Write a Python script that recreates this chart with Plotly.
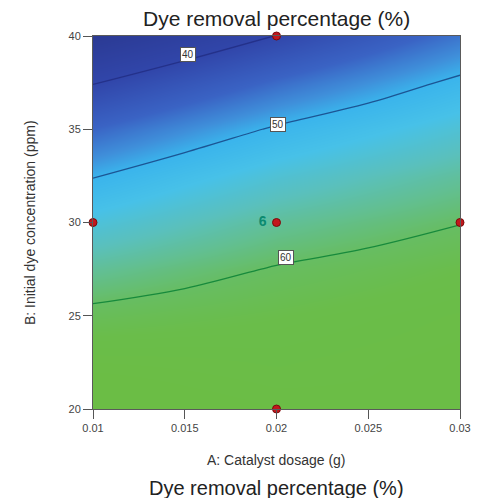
import plotly.graph_objects as go

# Factor levels (A: catalyst dosage, B: initial dye concentration)
dosage = [0.01, 0.015, 0.02, 0.025, 0.03]
conc = [20, 22.5, 25, 27.5, 30, 32.5, 35, 37.5, 40]

# Predicted dye removal (%) on the grid, one row per concentration level
removal = [
    [65.4, 64.4, 63.8, 63.6, 63.7],
    [63.4, 63.2, 62.9, 63.3, 63.7],
    [60.8, 61.4, 61.9, 62.5, 63.1],
    [57.7, 59.0, 60.2, 61.0, 61.9],
    [54.0, 55.9, 57.7, 58.8, 59.9],
    [49.8, 52.2, 54.4, 56.0, 57.5],
    [45.1, 47.8, 50.4, 52.4, 54.4],
    [39.8, 42.7, 45.6, 48.1, 50.7],
    [33.9, 37.0, 40.1, 43.1, 46.3],
]

# Contour levels drawn and their label anchor points
levels = [40, 50, 60]
level_colors = ["#24318a", "#1c5594", "#178a3c"]
label_x = [0.0152, 0.0201, 0.0205]
label_y = [39.03, 35.28, 28.1]

# Design points and replicate count at the centre point
design_a = [0.01, 0.02, 0.02, 0.03, 0.02]
design_b = [30, 40, 20, 30, 30]
design_text = ["", "", "", "", "6 "]

x_ticks = [0.01, 0.015, 0.02, 0.025, 0.03]
x_ticklabels = ["0.01", "0.015", "0.02", "0.025", "0.03"]
y_ticks = [20, 25, 30, 35, 40]

zmin, zmax = 34, 64
colorscale = [
    [0.0, "#2b3a94"],
    [0.2, "#3146aa"],
    [0.367, "#3a63c4"],
    [0.467, "#3f8fda"],
    [0.533, "#3ab4ec"],
    [0.633, "#47c1e8"],
    [0.733, "#5ac0bc"],
    [0.8, "#62bf92"],
    [0.867, "#67bd62"],
    [0.933, "#6abd4a"],
    [1.0, "#6bbd45"],
]

FONT = "Arial, Liberation Sans, sans-serif"

fig = go.Figure()

fig.add_trace(go.Heatmap(
    x=dosage, y=conc, z=removal,
    zmin=zmin, zmax=zmax, colorscale=colorscale,
    zsmooth="best", showscale=False, hoverinfo="skip",
))

for lvl, col in zip(levels, level_colors):
    fig.add_trace(go.Contour(
        x=dosage, y=conc, z=removal,
        contours=dict(start=lvl, end=lvl, size=10, coloring="none", showlabels=False),
        line=dict(color=col, width=1.3),
        showscale=False, hoverinfo="skip",
    ))

fig.add_trace(go.Scatter(
    x=design_a, y=design_b, mode="markers+text",
    text=design_text, textposition="middle left",
    textfont=dict(family=FONT, size=14, color="#0b8a70", weight="bold"),
    marker=dict(size=8, color="#c3161c", line=dict(color="#7a0a0a", width=1)),
    cliponaxis=False, showlegend=False, hoverinfo="skip",
))

annotations = []
for lvl, lx, ly in zip(levels, label_x, label_y):
    annotations.append(dict(
        x=lx, y=ly, xref="x", yref="y", text=str(lvl), showarrow=False,
        font=dict(family=FONT, size=10, color="#333333"),
        bgcolor="#ffffff", bordercolor="#555555", borderwidth=1, borderpad=1,
    ))

annotations += [
    dict(text="Dye removal percentage (%)", x=0.5, y=1.0, xref="paper", yref="paper",
         yanchor="bottom", yshift=4, showarrow=False,
         font=dict(family=FONT, size=21, color="#222222")),
    dict(text="A: Catalyst dosage (g)", x=0.5, y=-0.137, xref="paper", yref="paper",
         xanchor="center", yanchor="middle", showarrow=False,
         font=dict(family=FONT, size=14, color="#333333")),
    dict(text="B: Initial dye concentration (ppm)", x=-0.2, y=0.5, xref="paper", yref="paper",
         textangle=-90, showarrow=False, font=dict(family=FONT, size=14, color="#333333")),
    dict(text="Dye removal percentage (%)", x=0.5, y=-0.211, xref="paper", yref="paper",
         xanchor="center", yanchor="middle", showarrow=False,
         font=dict(family=FONT, size=20, color="#222222")),
]

axis_common = dict(
    showgrid=False, zeroline=False, ticks="outside", ticklen=9, tickwidth=1,
    tickcolor="#555555", showline=True, linecolor="#5a5a5a", linewidth=1, mirror=True,
    tickfont=dict(family=FONT, size=11, color="#444444"),
)

fig.update_layout(
    width=483, height=498,
    margin=dict(l=93, r=16, t=36, b=89),
    paper_bgcolor="#ffffff", plot_bgcolor="#ffffff",
    showlegend=False,
    annotations=annotations,
    xaxis=dict(range=[0.01, 0.03], tickvals=x_ticks, ticktext=x_ticklabels, **axis_common),
    yaxis=dict(range=[20, 40], tickvals=y_ticks, **axis_common),
)

fig.write_html("out.html")
